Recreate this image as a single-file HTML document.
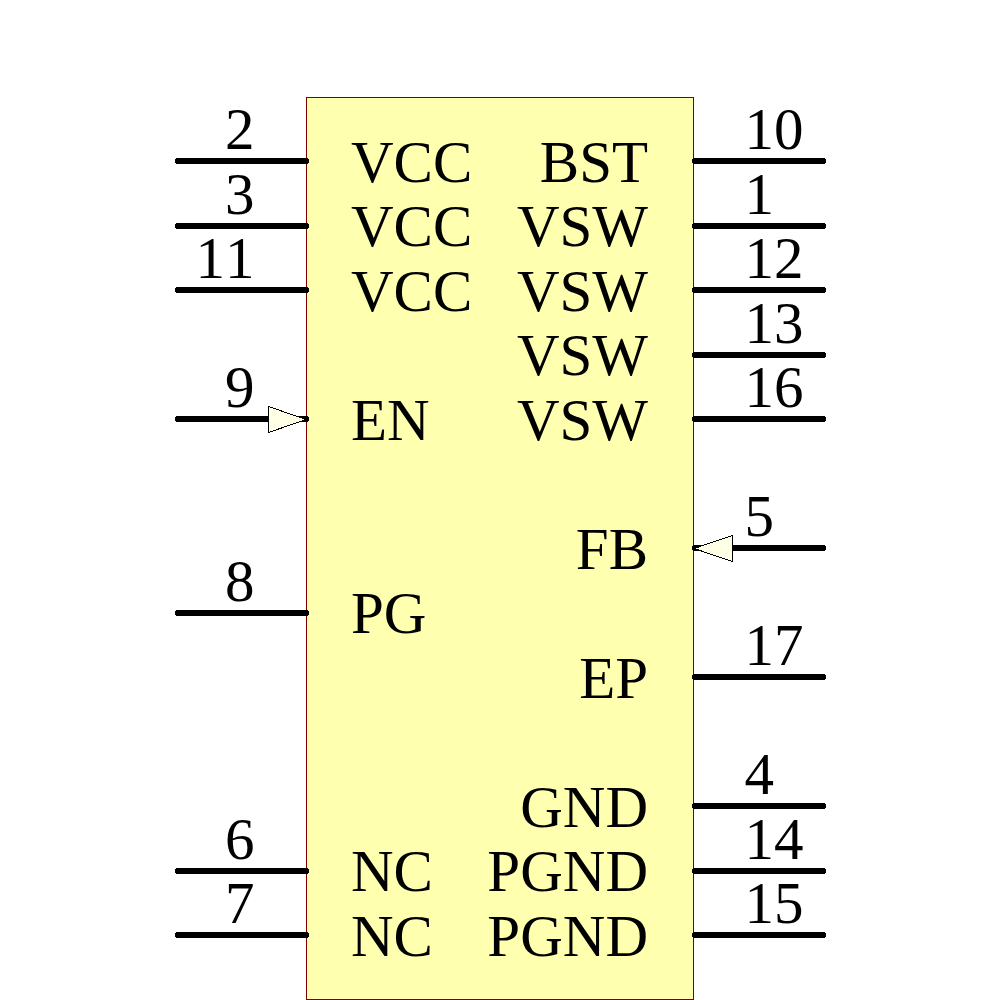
<!DOCTYPE html>
<html><head><meta charset="utf-8"><style>
html,body{margin:0;padding:0;background:#fff;width:1000px;height:1000px;overflow:hidden}
svg{display:block}
text{font-family:"Liberation Serif",serif;font-size:59px;fill:#000;font-kerning:none}
</style></head><body>
<svg width="1000" height="1000" viewBox="0 0 1000 1000">
<rect x="306.5" y="97.5" width="387" height="902" fill="#FFFFB0" stroke="#800000" stroke-width="1"/>

<line x1="178" y1="161" x2="306" y2="161" stroke="#000" stroke-width="6" stroke-linecap="round" shape-rendering="crispEdges"/>
<text x="254.5" y="149" text-anchor="end">2</text>
<text x="351" y="182">VCC</text>
<line x1="178" y1="226" x2="306" y2="226" stroke="#000" stroke-width="6" stroke-linecap="round" shape-rendering="crispEdges"/>
<text x="254.5" y="214" text-anchor="end">3</text>
<text x="351" y="246">VCC</text>
<line x1="178" y1="290" x2="306" y2="290" stroke="#000" stroke-width="6" stroke-linecap="round" shape-rendering="crispEdges"/>
<text x="254.5" y="278" text-anchor="end">11</text>
<text x="351" y="311">VCC</text>
<line x1="178" y1="419" x2="306" y2="419" stroke="#000" stroke-width="6" stroke-linecap="round" shape-rendering="crispEdges"/>
<text x="254.5" y="407" text-anchor="end">9</text>
<text x="351" y="440">EN</text>
<line x1="178" y1="613" x2="306" y2="613" stroke="#000" stroke-width="6" stroke-linecap="round" shape-rendering="crispEdges"/>
<text x="254.5" y="601" text-anchor="end">8</text>
<text x="351" y="633">PG</text>
<line x1="178" y1="871" x2="306" y2="871" stroke="#000" stroke-width="6" stroke-linecap="round" shape-rendering="crispEdges"/>
<text x="254.5" y="859" text-anchor="end">6</text>
<text x="351" y="891">NC</text>
<line x1="178" y1="935" x2="306" y2="935" stroke="#000" stroke-width="6" stroke-linecap="round" shape-rendering="crispEdges"/>
<text x="254.5" y="923" text-anchor="end">7</text>
<text x="351" y="956">NC</text>
<line x1="695" y1="161" x2="823" y2="161" stroke="#000" stroke-width="6" stroke-linecap="round" shape-rendering="crispEdges"/>
<text x="744.5" y="149">10</text>
<text x="648" y="182" text-anchor="end">BST</text>
<line x1="695" y1="226" x2="823" y2="226" stroke="#000" stroke-width="6" stroke-linecap="round" shape-rendering="crispEdges"/>
<text x="744.5" y="214">1</text>
<text x="648" y="246" text-anchor="end">VSW</text>
<line x1="695" y1="290" x2="823" y2="290" stroke="#000" stroke-width="6" stroke-linecap="round" shape-rendering="crispEdges"/>
<text x="744.5" y="278">12</text>
<text x="648" y="311" text-anchor="end">VSW</text>
<line x1="695" y1="355" x2="823" y2="355" stroke="#000" stroke-width="6" stroke-linecap="round" shape-rendering="crispEdges"/>
<text x="744.5" y="343">13</text>
<text x="648" y="375" text-anchor="end">VSW</text>
<line x1="695" y1="419" x2="823" y2="419" stroke="#000" stroke-width="6" stroke-linecap="round" shape-rendering="crispEdges"/>
<text x="744.5" y="407">16</text>
<text x="648" y="440" text-anchor="end">VSW</text>
<line x1="695" y1="548" x2="823" y2="548" stroke="#000" stroke-width="6" stroke-linecap="round" shape-rendering="crispEdges"/>
<text x="744.5" y="536">5</text>
<text x="648" y="569" text-anchor="end">FB</text>
<line x1="695" y1="677" x2="823" y2="677" stroke="#000" stroke-width="6" stroke-linecap="round" shape-rendering="crispEdges"/>
<text x="744.5" y="665">17</text>
<text x="648" y="698" text-anchor="end">EP</text>
<line x1="695" y1="806" x2="823" y2="806" stroke="#000" stroke-width="6" stroke-linecap="round" shape-rendering="crispEdges"/>
<text x="744.5" y="794">4</text>
<text x="648" y="827" text-anchor="end">GND</text>
<line x1="695" y1="871" x2="823" y2="871" stroke="#000" stroke-width="6" stroke-linecap="round" shape-rendering="crispEdges"/>
<text x="744.5" y="859">14</text>
<text x="648" y="891" text-anchor="end">PGND</text>
<line x1="695" y1="935" x2="823" y2="935" stroke="#000" stroke-width="6" stroke-linecap="round" shape-rendering="crispEdges"/>
<text x="744.5" y="923">15</text>
<text x="648" y="956" text-anchor="end">PGND</text>
<polygon points="268.5,406.5 268.5,432.5 306,419.5" fill="#FFFFE6" stroke="#000" stroke-width="1" shape-rendering="crispEdges"/>
<polygon points="732.5,535.5 732.5,561.5 694,548.5" fill="#FFFFE6" stroke="#000" stroke-width="1" shape-rendering="crispEdges"/>
</svg></body></html>
